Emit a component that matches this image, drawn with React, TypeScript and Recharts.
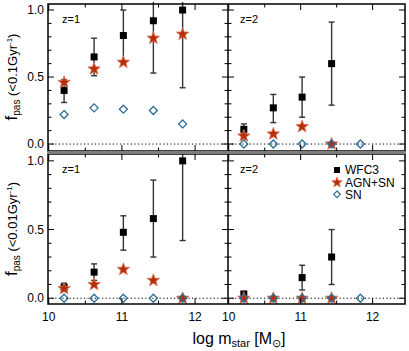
import * as React from "react";
import { ScatterChart, Scatter, XAxis, YAxis, ErrorBar, ReferenceLine } from "recharts";

// ── Data ────────────────────────────────────────────────────────────────────
const MASS = [10.21, 10.62, 11.02, 11.43, 11.83];

// z=1, passive fraction over the last 0.1 Gyr
const wfc3Z1Short = [0.4, 0.65, 0.81, 0.92, 1.0];
const wfc3Z1ShortLo = [0.31, 0.51, 0.62, 0.53, 0.42];
const wfc3Z1ShortHi = [0.48, 0.79, 1.0, 1.2, 1.2];
const agnZ1Short = [0.46, 0.56, 0.61, 0.79, 0.82];
const snZ1Short = [0.22, 0.27, 0.26, 0.25, 0.15];

// z=2, last 0.1 Gyr
const wfc3Z2Short = [0.11, 0.27, 0.35, 0.6, null];
const wfc3Z2ShortLo = [0.08, 0.16, 0.2, 0.29, null];
const wfc3Z2ShortHi = [0.15, 0.37, 0.5, 0.91, null];
const agnZ2Short = [0.06, 0.075, 0.13, 0.0, null];
const snZ2Short = [0, 0, 0, 0, 0];

// z=1, last 0.01 Gyr
const wfc3Z1Long = [0.08, 0.19, 0.48, 0.58, 1.0];
const wfc3Z1LongLo = [0.05, 0.13, 0.35, 0.3, 0.42];
const wfc3Z1LongHi = [0.11, 0.25, 0.6, 0.86, 1.2];
const agnZ1Long = [0.07, 0.1, 0.21, 0.13, 0.0];
const snZ1Long = [0, 0, 0, 0, 0];

// z=2, last 0.01 Gyr
const wfc3Z2Long = [0.03, null, 0.15, 0.3, null];
const wfc3Z2LongLo = [0.01, null, 0.06, 0.1, null];
const wfc3Z2LongHi = [0.05, null, 0.24, 0.5, null];
const agnZ2Long = [0, 0, 0, 0, null];
const snZ2Long = [0, 0, 0, 0, 0];

const X_TICKS = [10, 10.5, 11, 11.5, 12];
const Y_TICKS = [0, 0.1, 0.2, 0.3, 0.4, 0.5, 0.6, 0.7, 0.8, 0.9, 1.0];

// ── Styling ────────────────────────────────────────────────────────────────
const FONT = "'Liberation Sans', Arial, Helvetica, sans-serif";
const STAR_FILL = "#b3300c";
const STAR_EDGE = "#e2775a";
const SN_BLUE = "#2c6e96";
const YW = 40; // y-axis strip width inside each chart
const XH = 24; // x-axis strip height
const PAD = 2;

type Pt = { x: number; y: number; err?: [number, number] };

const points = (ys: (number | null)[]): Pt[] =>
  ys.flatMap((y, i) => (y == null ? [] : [{ x: MASS[i], y }]));

const pointsErr = (ys: (number | null)[], lo: (number | null)[], hi: (number | null)[]): Pt[] =>
  ys.flatMap((y, i) =>
    y == null ? [] : [{ x: MASS[i], y, err: [y - (lo[i] as number), (hi[i] as number) - y] as [number, number] }]
  );

const starPath = (cx: number, cy: number, r: number) => {
  const pts: string[] = [];
  for (let k = 0; k < 10; k++) {
    const rr = k % 2 === 0 ? r : r * 0.42;
    const a = -Math.PI / 2 + (k * Math.PI) / 5;
    pts.push(`${cx + rr * Math.cos(a)},${cy + rr * Math.sin(a)}`);
  }
  return pts.join(" ");
};

const SquareShape = (p: any) => (
  <rect x={p.cx - 3.5} y={p.cy - 3.5} width={7} height={7} fill="#000" />
);
const StarShape = (p: any) => (
  <polygon points={starPath(p.cx, p.cy, 6.6)} fill={STAR_FILL} stroke={STAR_EDGE} strokeWidth={0.8} />
);
const DiamondShape = (p: any) => (
  <polygon
    points={`${p.cx},${p.cy - 4} ${p.cx + 4},${p.cy} ${p.cx},${p.cy + 4} ${p.cx - 4},${p.cy}`}
    fill="none"
    stroke={SN_BLUE}
    strokeWidth={1.3}
  />
);

interface PanelProps {
  left: number;
  top: number;
  w: number;
  h: number;
  yDomain: [number, number];
  xLabels: boolean;
  yLabels: boolean;
  wfc3: Pt[];
  agn: Pt[];
  sn: Pt[];
}

function Panel({ left, top, w, h, yDomain, xLabels, yLabels, wfc3, agn, sn }: PanelProps) {
  const plotBottom = PAD + h;
  const xTick = (p: any) => {
    const v = p.payload.value;
    const major = Math.abs(v - Math.round(v)) < 1e-6;
    const len = major ? 6 : 3.5;
    return (
      <g>
        <line x1={p.x} x2={p.x} y1={plotBottom} y2={plotBottom - len} stroke="#000" />
        <line x1={p.x} x2={p.x} y1={PAD} y2={PAD + len} stroke="#000" />
        {xLabels && major && (
          <text x={p.x} y={plotBottom + 17} textAnchor="middle" fontSize={12} fontFamily={FONT} fill="#000">
            {v}
          </text>
        )}
      </g>
    );
  };
  const yTick = (p: any) => {
    const v = p.payload.value;
    const major = Math.abs(v * 2 - Math.round(v * 2)) < 1e-6;
    const len = major ? 6 : 3.5;
    return (
      <g>
        <line x1={YW} x2={YW + len} y1={p.y} y2={p.y} stroke="#000" />
        <line x1={YW + w} x2={YW + w - len} y1={p.y} y2={p.y} stroke="#000" />
        {yLabels && major && (
          <text x={YW - 4} y={p.y + 4} textAnchor="end" fontSize={12} fontFamily={FONT} fill="#000">
            {v.toFixed(1)}
          </text>
        )}
      </g>
    );
  };
  return (
    <div style={{ position: "absolute", left: left - YW, top: top - PAD }}>
      <ScatterChart
        width={w + YW + PAD}
        height={h + XH + PAD}
        margin={{ top: PAD, right: PAD, left: 0, bottom: 0 }}
      >
        <XAxis
          type="number"
          dataKey="x"
          domain={[9.99, 12.45]}
          allowDataOverflow
          ticks={X_TICKS}
          interval={0}
          height={XH}
          axisLine={false}
          tickLine={false}
          tick={xTick}
        />
        <YAxis
          type="number"
          dataKey="y"
          domain={yDomain}
          allowDataOverflow
          ticks={Y_TICKS}
          interval={0}
          width={YW}
          axisLine={false}
          tickLine={false}
          tick={yTick}
        />
        <ReferenceLine y={0} stroke="#000" strokeDasharray="1.2 2.4" strokeWidth={1} />
        <Scatter data={wfc3} shape={SquareShape} isAnimationActive={false}>
          <ErrorBar dataKey="err" direction="y" width={3} stroke="#333" strokeWidth={1.4} />
        </Scatter>
        <Scatter data={agn} shape={StarShape} isAnimationActive={false} />
        <Scatter data={sn} shape={DiamondShape} isAnimationActive={false} />
      </ScatterChart>
    </div>
  );
}

const LX = 48;
const MX = 228;
const RX = 405;
const TY = 4;
const MY1 = 151;
const MY2 = 154;
const BY = 304;

export default function App() {
  return (
    <div style={{ position: "absolute", left: 0, top: 0, width: 409, height: 351, background: "#fff", overflow: "hidden" }}>
      <Panel left={LX} top={TY} w={MX - LX} h={MY1 - TY} yDomain={[-0.052, 1.045]} xLabels={false} yLabels
        wfc3={pointsErr(wfc3Z1Short, wfc3Z1ShortLo, wfc3Z1ShortHi)} agn={points(agnZ1Short)} sn={points(snZ1Short)} />
      <Panel left={MX} top={TY} w={RX - MX} h={MY1 - TY} yDomain={[-0.052, 1.045]} xLabels={false} yLabels={false}
        wfc3={pointsErr(wfc3Z2Short, wfc3Z2ShortLo, wfc3Z2ShortHi)} agn={points(agnZ2Short)} sn={points(snZ2Short)} />
      <Panel left={LX} top={MY2} w={MX - LX} h={BY - MY2} yDomain={[-0.042, 1.05]} xLabels yLabels
        wfc3={pointsErr(wfc3Z1Long, wfc3Z1LongLo, wfc3Z1LongHi)} agn={points(agnZ1Long)} sn={points(snZ1Long)} />
      <Panel left={MX} top={MY2} w={RX - MX} h={BY - MY2} yDomain={[-0.042, 1.05]} xLabels yLabels={false}
        wfc3={pointsErr(wfc3Z2Long, wfc3Z2LongLo, wfc3Z2LongHi)} agn={points(agnZ2Long)} sn={points(snZ2Long)} />

      {/* frames, labels, legend */}
      <svg width={409} height={351} style={{ position: "absolute", left: 0, top: 0, pointerEvents: "none" }} fontFamily={FONT}>
        <rect x={LX} y={TY} width={RX - LX} height={MY1 - TY} fill="none" stroke="#000" strokeWidth={1.5} />
        <line x1={MX} x2={MX} y1={TY} y2={MY1} stroke="#000" strokeWidth={1.5} />
        <rect x={LX} y={MY2} width={RX - LX} height={BY - MY2} fill="none" stroke="#000" strokeWidth={1.5} />
        <line x1={MX} x2={MX} y1={MY2} y2={BY} stroke="#000" strokeWidth={1.5} />
        <rect x={LX - 0.75} y={MY1} width={RX - LX + 1.5} height={MY2 - MY1} fill="#7d7d7d" />

        <text x={62} y={23} fontSize={11}>z=1</text>
        <text x={240} y={23} fontSize={11}>z=2</text>
        <text x={62} y={173} fontSize={11}>z=1</text>
        <text x={240} y={173} fontSize={11}>z=2</text>

        <rect x={334} y={167} width={6} height={6} fill="#000" />
        <text x={345} y={174} fontSize={12}>WFC3</text>
        <polygon points={starPath(337, 182.5, 5.6)} fill={STAR_FILL} stroke={STAR_EDGE} strokeWidth={0.7} />
        <text x={345} y={186.5} fontSize={12}>AGN+SN</text>
        <polygon points="337,191 340.3,194.3 337,197.6 333.7,194.3" fill="none" stroke={SN_BLUE} strokeWidth={1.2} />
        <text x={345} y={199} fontSize={12}>SN</text>

        <text transform="rotate(-90 17 77)" x={17} y={77} textAnchor="middle" fontSize={13}>
          <tspan fontSize={17}>f</tspan>
          <tspan fontSize={10} dy={3}>pas</tspan>
          <tspan dy={-3}> (&lt;0.1Gyr</tspan>
          <tspan fontSize={8} dy={-5}>-1</tspan>
          <tspan dy={5}>)</tspan>
        </text>
        <text transform="rotate(-90 17 229)" x={17} y={229} textAnchor="middle" fontSize={13}>
          <tspan fontSize={17}>f</tspan>
          <tspan fontSize={10} dy={3}>pas</tspan>
          <tspan dy={-3}> (&lt;0.01Gyr</tspan>
          <tspan fontSize={8} dy={-5}>-1</tspan>
          <tspan dy={5}>)</tspan>
        </text>

        <text x={239} y={344} textAnchor="middle" fontSize={16}>
          log m
          <tspan fontSize={11} dy={3}>star</tspan>
          <tspan dy={-3}> [M</tspan>
          <tspan fontSize={11} dy={3}>⊙</tspan>
          <tspan dy={-3}>]</tspan>
        </text>
      </svg>
    </div>
  );
}
